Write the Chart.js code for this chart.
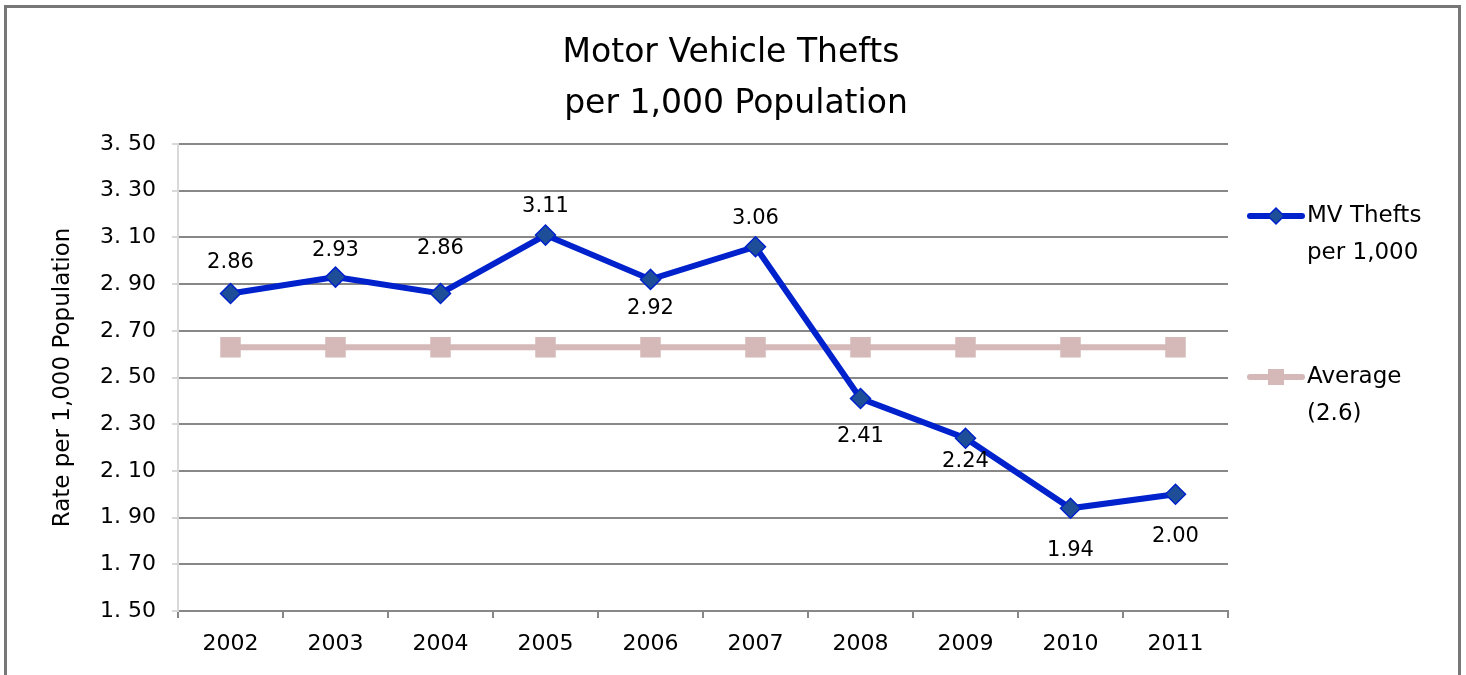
<!DOCTYPE html>
<html>
<head>
<meta charset="utf-8">
<script src="https://cdn.jsdelivr.net/npm/chart.js@4"></script>
<style>
  html, body { margin: 0; padding: 0; background: #fff; }
  canvas { display: block; }
</style>
</head>
<body>
<canvas id="theftChart" width="1466" height="675"></canvas>
<script>
// chart data
const years = ["2002", "2003", "2004", "2005", "2006", "2007", "2008", "2009", "2010", "2011"]
const mvThefts = [2.86, 2.93, 2.86, 3.11, 2.92, 3.06, 2.41, 2.24, 1.94, 2.00]
const averageRate = [2.63, 2.63, 2.63, 2.63, 2.63, 2.63, 2.63, 2.63, 2.63, 2.63]
const titleLines = ["Motor Vehicle Thefts", "per 1,000 Population"]
const legendLines = [["MV Thefts", "per 1,000"], ["Average", "(2.6)"]]

// where each value label sits relative to its point
const labelSide = ["above", "above", "above", "above", "below", "above", "below", "below", "below", "below"]
const labelGap = [31, 27, 45, 29, 29, 28, 38, 23, 42, 42]

const FONT = "'DejaVu Sans', Verdana, sans-serif"
const BLUE = "#0022cc"
const BLUE_FILL = "#1f4e99"
const AVG = "#d5b8b8"

// outer frame, title, value labels, legend
const decorPlugin = {
  id: "decor",
  beforeDraw(chart) {
    const ctx = chart.ctx
    ctx.save()
    ctx.fillStyle = "#fff"
    ctx.fillRect(0, 0, chart.width, chart.height)
    ctx.strokeStyle = "#777"
    ctx.lineWidth = 3
    ctx.strokeRect(5.5, 6.5, 1454, 720)
    ctx.restore()
  },
  afterDatasetsDraw(chart) {
    const ctx = chart.ctx
    ctx.save()
    ctx.fillStyle = "#000"
    ctx.textAlign = "center"
    ctx.textBaseline = "middle"

    // title
    ctx.font = "33px " + FONT
    ctx.fillText(titleLines[0], 731, 53)
    ctx.fillText(titleLines[1], 736, 104)

    // value labels
    ctx.font = "21px " + FONT
    const meta = chart.getDatasetMeta(0)
    meta.data.forEach((pt, i) => {
      const dy = labelSide[i] === "above" ? -labelGap[i] : labelGap[i]
      ctx.fillText(mvThefts[i].toFixed(2), pt.x, pt.y + dy)
    })

    // legend
    const items = [
      { y: 216, color: BLUE, fill: BLUE_FILL, shape: "diamond" },
      { y: 377, color: AVG, fill: AVG, shape: "square" },
    ]
    items.forEach((it, i) => {
      ctx.strokeStyle = it.color
      ctx.lineWidth = 6
      ctx.lineCap = "round"
      ctx.beginPath()
      ctx.moveTo(1250, it.y)
      ctx.lineTo(1302, it.y)
      ctx.stroke()
      ctx.fillStyle = it.fill
      ctx.beginPath()
      if (it.shape === "diamond") {
        ctx.moveTo(1276, it.y - 8)
        ctx.lineTo(1284, it.y)
        ctx.lineTo(1276, it.y + 8)
        ctx.lineTo(1268, it.y)
        ctx.closePath()
        ctx.fill()
        ctx.strokeStyle = BLUE
        ctx.lineWidth = 1.5
        ctx.stroke()
      } else {
        ctx.rect(1268, it.y - 8, 16, 16)
        ctx.fill()
      }
      ctx.fillStyle = "#000"
      ctx.textAlign = "left"
      ctx.font = "23px " + FONT
      ctx.fillText(legendLines[i][0], 1307, it.y)
      ctx.fillText(legendLines[i][1], 1307, it.y + 37)
    })
    ctx.restore()
  },
}

const theftCanvas = document.getElementById("theftChart")

new Chart(theftCanvas, {
  type: "line",
  data: {
    labels: years,
    datasets: [
      {
        label: "MV Thefts per 1,000",
        data: mvThefts,
        borderColor: BLUE,
        borderWidth: 6,
        backgroundColor: BLUE_FILL,
        pointStyle: "rectRot",
        pointRadius: 10,
        pointBorderColor: BLUE,
        pointBorderWidth: 1.5,
        pointBackgroundColor: BLUE_FILL,
        tension: 0,
        order: 0,
      },
      {
        label: "Average (2.6)",
        data: averageRate,
        borderColor: AVG,
        borderWidth: 6,
        backgroundColor: AVG,
        pointStyle: "rect",
        pointRadius: 14.5,
        pointBorderWidth: 0,
        pointBackgroundColor: AVG,
        tension: 0,
        order: 1,
      },
    ],
  },
  options: {
    responsive: false,
    animation: false,
    devicePixelRatio: 1,
    layout: { padding: { top: 144, left: 49, right: 238, bottom: 14 } },
    plugins: {
      legend: { display: false },
      title: { display: false },
      tooltip: { enabled: false },
    },
    scales: {
      x: {
        offset: true,
        grid: {
          offset: true,
          drawOnChartArea: false,
          color: "#888",
          tickLength: 7,
          lineWidth: 2,
        },
        border: { color: "#888", width: 2 },
        ticks: {
          color: "#000",
          font: { family: FONT, size: 22 },
          padding: 13,
        },
        afterFit(scale) {
          scale.height = 50
        },
      },
      y: {
        min: 1.5,
        max: 3.5,
        ticks: {
          stepSize: 0.2,
          color: "#000",
          font: { family: FONT, size: 22 },
          padding: 16,
          callback: (v) => v.toFixed(2).replace(".", ". "),
        },
        grid: {
          color: "#888",
          lineWidth: 2,
          tickColor: "#d9d9d9",
          tickLength: 6,
        },
        border: { color: "#d9d9d9", width: 2 },
        title: {
          display: true,
          text: "Rate per 1,000 Population",
          color: "#000",
          font: { family: FONT, size: 23 },
          padding: { top: 0, bottom: 0 },
        },
        afterFit(scale) {
          scale.width = 129
        },
      },
    },
  },
  plugins: [decorPlugin],
})
</script>
</body>
</html>
